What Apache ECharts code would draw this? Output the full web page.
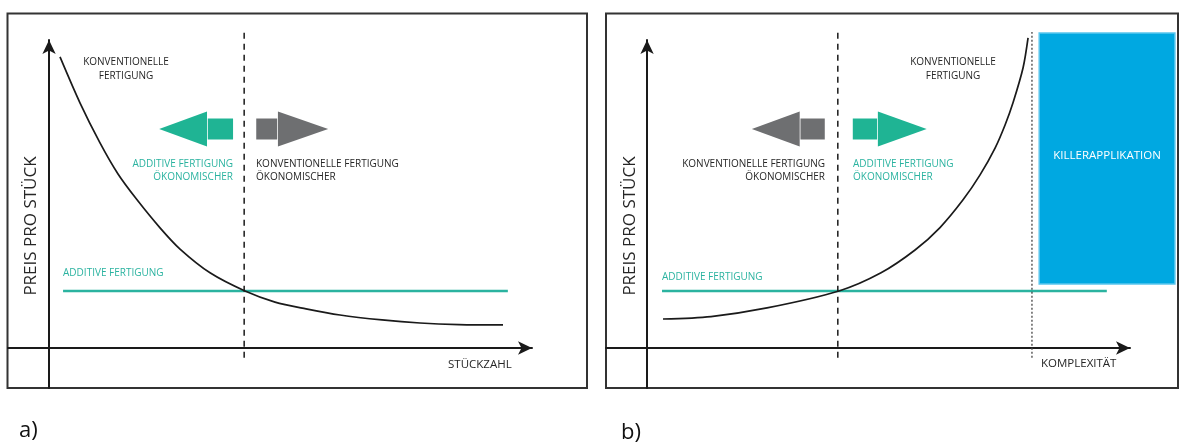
<!DOCTYPE html>
<html><head><meta charset="utf-8">
<script src="https://cdn.jsdelivr.net/npm/echarts@6/dist/echarts.min.js"></script>
<style>html,body{margin:0;padding:0;background:#fff}#c{width:1181px;height:444px}</style>
</head><body><div id="c"></div>
<script>
// ---- Panel a) : Preis pro Stück über Stückzahl (abstract units 0..100) ----
const curveA_x = [2.27, 6.40, 10.55, 14.28, 18.22, 22.98, 27.12, 33.33, 40.58, 46.79, 53.21, 60.25, 68.94, 76.81, 84.89, 94.0];
const curveA_y = [94.5, 79.6, 66.6, 56.5, 48.1, 39.0, 32.1, 24.4, 18.5, 14.9, 12.7, 10.7, 9.1, 8.1, 7.6, 7.5];
const additiveA_x = [2.9, 95.0];
const additiveA_y = [18.5, 18.5];
const breakEvenA = 40.4;
// ---- Panel b) : Preis pro Stück über Komplexität ----
const curveB_x = [3.30, 13.24, 24.84, 39.75, 48.45, 55.49, 60.66, 65.43, 68.95, 72.06, 74.13, 75.79, 77.86, 78.89];
const curveB_y = [9.4, 10.2, 13.0, 18.5, 24.4, 31.8, 39.1, 48.1, 56.2, 64.9, 72.4, 79.7, 91.0, 100.7];
const additiveB_x = [3.1, 95.2];
const additiveB_y = [18.5, 18.5];
const breakEvenB = 39.5;
const killerLimit = 79.7;
const killerRange_x = [81.2, 109.3];
const killerRange_y = [20.8, 102.3];
const vLineRange = [-3.2, 102.6];
// block arrows: [tip, headBase, tail, y]
const arrowsA = [[22.8, 32.7, 38.1, 71.1], [57.8, 47.4, 42.9, 71.1]];
const arrowsB = [[21.7, 31.6, 36.8, 71.1], [57.9, 47.8, 42.6, 71.1]];
// labels
const labelYAxis = 'PREIS PRO STÜCK';
const labelXA = 'STÜCKZAHL';
const labelXB = 'KOMPLEXITÄT';

const TEAL = '#2bb3a0', TEAL_A = '#1fb494', GRAY = '#6e6f71', INK = '#1a1a1a', TXT = '#262626';
const FONT = '"Open Sans", sans-serif';

function zip(xs, ys){ return xs.map((x,i)=>[x, ys[i]]); }

const axisLine = {onZero:true, symbol:['none','arrow'], symbolSize:[10,14], lineStyle:{color:INK, width:2}};
function xAx(g){ return {gridIndex:g, type:'value', min:-8.5, max:100, axisLine, axisTick:{show:false}, axisLabel:{show:false}, splitLine:{show:false}}; }
function yAx(g){ return {gridIndex:g, type:'value', min:-13, max:100, axisLine, axisTick:{show:false}, axisLabel:{show:false}, splitLine:{show:false}}; }

function arrowRender(params, api){
  const tip = api.coord([api.value(0), api.value(3)]);
  const base = api.coord([api.value(1), api.value(3)]);
  const tail = api.coord([api.value(2), api.value(3)]);
  const c = api.visual('color');
  const yc = tip[1], dir = base[0] > tip[0] ? 1 : -1;
  return {type:'group', children:[
    {type:'polygon', shape:{points:[[tip[0],yc],[base[0],yc-17.5],[base[0],yc+17.5]]}, style:{fill:c}},
    {type:'rect', shape:{x:Math.min(base[0]+dir*0.8, tail[0]), y:yc-10.5, width:Math.abs(tail[0]-base[0])-0.8, height:21}, style:{fill:c}}
  ]};
}
function lineS(g, data, color, width, extra){
  return Object.assign({type:'line', xAxisIndex:g, yAxisIndex:g, data, showSymbol:false, symbol:'none', silent:true, clip:false,
    lineStyle:{color, width}, animation:false}, extra||{});
}
function txt(x, y, text, fill, size, align, extra){
  return Object.assign({type:'text', x, y, style:{text, fill, font:size+'px '+FONT, align, verticalAlign:'middle'}}, extra||{});
}

const option = {
  animation:false,
  grid:[{left:8, top:40, width:524, height:348}, {left:606, top:40, width:524, height:348}],
  xAxis:[xAx(0), xAx(1)],
  yAxis:[yAx(0), yAx(1)],
  series:[
    lineS(0, zip(additiveA_x, additiveA_y), TEAL, 2.5),
    lineS(0, zip(curveA_x, curveA_y), INK, 1.7, {smooth:0.3, z:3}),
    lineS(0, [[breakEvenA, vLineRange[0]],[breakEvenA, vLineRange[1]]], INK, 1.5, {lineStyle:{color:INK, width:1.5, type:[6,5]}}),
    {type:'custom', xAxisIndex:0, yAxisIndex:0, clip:false, silent:true, renderItem:arrowRender,
      data:[{value:arrowsA[0], itemStyle:{color:TEAL_A}}, {value:arrowsA[1], itemStyle:{color:GRAY}}]},
    lineS(1, zip(additiveB_x, additiveB_y), TEAL, 2.5),
    lineS(1, zip(curveB_x, curveB_y), INK, 1.7, {smooth:0.3, z:3}),
    lineS(1, [[breakEvenB, vLineRange[0]],[breakEvenB, vLineRange[1]]], INK, 1.5, {lineStyle:{color:INK, width:1.5, type:[6,5]}}),
    lineS(1, [[killerLimit, vLineRange[0]],[killerLimit, vLineRange[1]]], INK, 1.3, {lineStyle:{color:'#444', width:1.3, type:[2,2]}}),
    {type:'custom', xAxisIndex:1, yAxisIndex:1, clip:false, silent:true, renderItem:arrowRender,
      data:[{value:arrowsB[0], itemStyle:{color:GRAY}}, {value:arrowsB[1], itemStyle:{color:TEAL_A}}]},
    {type:'custom', xAxisIndex:1, yAxisIndex:1, clip:false, silent:true, z:1,
      renderItem:function(params, api){
        const p0 = api.coord([api.value(0), api.value(3)]);
        const p1 = api.coord([api.value(1), api.value(2)]);
        return {type:'group', children:[
          {type:'rect', shape:{x:p0[0], y:p0[1], width:p1[0]-p0[0], height:p1[1]-p0[1]}, style:{fill:'#00a8e1', stroke:'#59c6ee', lineWidth:1.5}},
          {type:'text', style:{text:'KILLERAPPLIKATION', x:(p0[0]+p1[0])/2, y:(p0[1]+p1[1])/2 - 3, fill:'#fff', font:'11.5px '+FONT, align:'center', verticalAlign:'middle'}}
        ]};
      },
      data:[[killerRange_x[0], killerRange_x[1], killerRange_y[0], killerRange_y[1]]]}
  ],
  graphic:[
    {type:'rect', shape:{x:7.5, y:13.5, width:579.5, height:374.5}, style:{fill:'none', stroke:'#333', lineWidth:2}, z:0},
    {type:'rect', shape:{x:606, y:13.5, width:572, height:374.5}, style:{fill:'none', stroke:'#333', lineWidth:2}, z:0},
    // panel a texts
    txt(126, 62, 'KONVENTIONELLE', TXT, 10, 'center'),
    txt(126, 76, 'FERTIGUNG', TXT, 10, 'center'),
    txt(233, 164, 'ADDITIVE FERTIGUNG', TEAL, 10, 'right'),
    txt(233, 177, 'ÖKONOMISCHER', TEAL, 10, 'right'),
    txt(256, 164, 'KONVENTIONELLE FERTIGUNG', TXT, 10, 'left'),
    txt(256, 177, 'ÖKONOMISCHER', TXT, 10, 'left'),
    txt(63, 273, 'ADDITIVE FERTIGUNG', TEAL, 10, 'left'),
    txt(448, 365, labelXA, TXT, 11.5, 'left'),
    txt(31, 226, labelYAxis, TXT, 17, 'center', {rotation:Math.PI/2}),
    txt(19, 431, 'a)', '#111', 22, 'left'),
    // panel b texts
    txt(953, 62, 'KONVENTIONELLE', TXT, 10, 'center'),
    txt(953, 76, 'FERTIGUNG', TXT, 10, 'center'),
    txt(825, 164, 'KONVENTIONELLE FERTIGUNG', TXT, 10, 'right'),
    txt(825, 177, 'ÖKONOMISCHER', TXT, 10, 'right'),
    txt(853, 164, 'ADDITIVE FERTIGUNG', TEAL, 10, 'left'),
    txt(853, 177, 'ÖKONOMISCHER', TEAL, 10, 'left'),
    txt(662, 277, 'ADDITIVE FERTIGUNG', TEAL, 10, 'left'),
    txt(1041, 364, labelXB, TXT, 11.5, 'left'),
    txt(630, 226, labelYAxis, TXT, 17, 'center', {rotation:Math.PI/2}),
    txt(621, 433, 'b)', '#111', 22, 'left')
  ]
};
const chart = echarts.init(document.getElementById('c'), null, {renderer:'canvas'});
chart.setOption(option);
</script></body></html>
